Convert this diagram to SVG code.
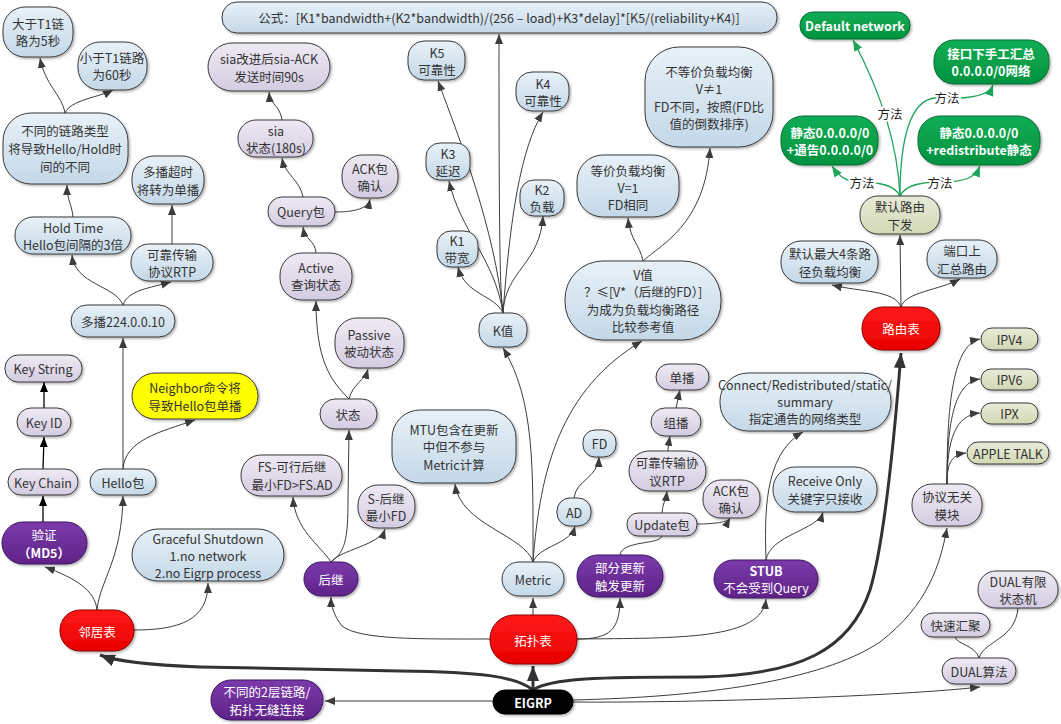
<svg xmlns="http://www.w3.org/2000/svg" width="1061" height="724" viewBox="0 0 1061 724">
<defs>
<linearGradient id="gb" x1="0" y1="0" x2="0" y2="1"><stop offset="0" stop-color="#e8f1f8"/><stop offset="1" stop-color="#c4d8e8"/></linearGradient>
<linearGradient id="gl" x1="0" y1="0" x2="0" y2="1"><stop offset="0" stop-color="#eeeaf3"/><stop offset="1" stop-color="#d4cce2"/></linearGradient>
<linearGradient id="gk" x1="0" y1="0" x2="0" y2="1"><stop offset="0" stop-color="#e8ebd8"/><stop offset="1" stop-color="#d2d8b4"/></linearGradient>
<linearGradient id="gp" x1="0" y1="0" x2="0" y2="1"><stop offset="0" stop-color="#7b3aaa"/><stop offset="1" stop-color="#5f2388"/></linearGradient>
<linearGradient id="gr" x1="0" y1="0" x2="0" y2="1"><stop offset="0" stop-color="#ff1a1a"/><stop offset="1" stop-color="#e80000"/></linearGradient>
<linearGradient id="gg" x1="0" y1="0" x2="0" y2="1"><stop offset="0" stop-color="#12ad55"/><stop offset="1" stop-color="#00923f"/></linearGradient>
<filter id="sh" x="-10%" y="-10%" width="130%" height="140%"><feDropShadow dx="1.5" dy="1.5" stdDeviation="1" flood-color="#000" flood-opacity="0.3"/></filter>
<marker id="a" viewBox="0 0 10 8" refX="10" refY="4" markerWidth="10" markerHeight="8" markerUnits="userSpaceOnUse" orient="auto"><path d="M0,0 L10,4 L0,8 z" fill="#3c3c3c"/></marker>
<marker id="k" viewBox="0 0 10 8" refX="10" refY="4" markerWidth="10" markerHeight="8" markerUnits="userSpaceOnUse" orient="auto"><path d="M0,0 L10,4 L0,8 z" fill="#000"/></marker>
<marker id="g" viewBox="0 0 10 8" refX="10" refY="4" markerWidth="11" markerHeight="9" markerUnits="userSpaceOnUse" orient="auto"><path d="M0,0 L10,4 L0,8 z" fill="#1fa55a"/></marker>
<marker id="t" viewBox="0 0 10 8" refX="10" refY="4" markerWidth="15" markerHeight="12" markerUnits="userSpaceOnUse" orient="auto"><path d="M0,0 L10,4 L0,8 z" fill="#333"/></marker>
</defs>
<style>
text{font-family:"Noto Sans CJK SC","Liberation Sans",sans-serif;font-size:12.5px;fill:#333;text-anchor:middle;dominant-baseline:central}
rect{stroke:#3a3a3a;stroke-width:1;filter:url(#sh)}
.b rect{fill:url(#gb)}
.l rect{fill:url(#gl)}
.k rect{fill:url(#gk)}
.p rect{fill:url(#gp);stroke:#3d1560}
.p text{fill:#fff}
.r rect{fill:url(#gr);stroke:#8a0000}
.r text{fill:#fff}
.g rect{fill:url(#gg);stroke:#0a6a30}
.g text{fill:#fff;font-weight:bold}
.y rect{fill:#ffff00}
.e rect{fill:#000;stroke:#000}
.e text{fill:#fff;font-weight:bold}
.c path{fill:none;stroke:#3c3c3c;stroke-width:1;marker-end:url(#a)}
.c path.kk{stroke:#000;stroke-width:1.3;marker-end:url(#k)}
.c path.th{stroke:#333;stroke-width:3;marker-end:url(#t)}
.c path.gr{stroke:#1fa55a;stroke-width:1.3;marker-end:url(#g)}
.c path.na{marker-end:none}
.lab{fill:#222;stroke:#fff;stroke-width:4px;paint-order:stroke;stroke-linejoin:round}
</style>
<rect x="0" y="0" width="1061" height="724" fill="#fff" style="filter:none;stroke:none"/>
<g id="connectors" class="c">
<path class="th" d="M533,690 L533,666"/>
<path class="th" d="M533,690 C515,676 480,672 400,671 L200,667 C150,665 118,662 100,655"/>
<path class="th" d="M533,690 C550,678 600,677 700,677 C800,675 850,650 870,590 C885,540 895,430 901,353"/>
<path d="M493,701 L325,701"/>
<path d="M573,700 C700,697 820,682 880,642 C928,605 940,565 947,528"/>
<path d="M573,702 C700,703 900,696 980,687"/>
<path d="M533,615 L533,598"/>
<path d="M490,639 C420,639 360,640 342,626 C334,616 331,606 331,597"/>
<path d="M577,639 C610,639 620,630 620,598"/>
<path d="M577,639 C680,638 762,640 766,599"/>
<path d="M97,610 C95,590 75,578 45,567"/>
<path d="M97,610 C100,580 122,560 123,496"/>
<path d="M134,630 C180,630 208,620 208,583"/>
<path class="kk" d="M43,522 L43,496"/>
<path class="kk" d="M43,469 L44,437"/>
<path class="kk" d="M44,408 L44,382"/>
<path d="M123,469 L123,338"/>
<path d="M123,469 C125,440 160,432 195,420"/>
<path d="M123,305 C115,285 75,285 72,255"/>
<path d="M123,305 C128,290 150,288 171,282"/>
<path d="M73,217 C72,205 67,200 67,185"/>
<path d="M172,244 L172,205"/>
<path d="M65,113 C62,95 45,85 40,58"/>
<path d="M65,113 C70,100 100,97 113,90"/>
<path d="M331,562 C320,545 295,530 293,497"/>
<path d="M331,562 C340,550 380,545 385,529"/>
<path d="M331,562 C345,552 348,540 348,500 L349,430"/>
<path d="M349,399 C330,380 316,360 316,301"/>
<path d="M349,399 C352,385 365,380 368,369"/>
<path d="M316,253 C315,240 305,240 303,227"/>
<path d="M303,197 C300,180 285,175 282,158"/>
<path d="M335,212 C350,212 368,210 370,199"/>
<path d="M282,120 C280,105 270,105 269,92"/>
<path d="M533,562 C525,535 460,525 455,484"/>
<path d="M533,562 C533,470 535,400 503,348"/>
<path d="M533,562 C540,470 560,390 642,341"/>
<path d="M533,562 C540,545 570,545 575,526"/>
<path d="M574,498 C576,480 598,478 599,457"/>
<path d="M503,313 C500,290 499,250 499,34"/>
<path d="M503,313 C495,230 460,140 438,81"/>
<path d="M503,313 C495,260 460,230 449,181"/>
<path d="M503,313 C495,295 465,295 458,267"/>
<path d="M503,313 C510,220 520,150 543,112"/>
<path d="M503,313 C505,270 540,265 543,216"/>
<path d="M643,261 C640,245 630,240 628,218"/>
<path d="M643,261 C660,245 705,225 710,148"/>
<path class="na" d="M620,555 C622,540 660,545 662,536"/>
<path d="M662,513 C662,505 666,500 667,491"/>
<path d="M697,524 C715,524 728,522 730,518"/>
<path d="M668,451 C668,445 669,442 670,436"/>
<path d="M676,408 L680,390"/>
<path d="M766,560 C765,520 762,455 803,432"/>
<path d="M766,560 C770,535 818,530 823,512"/>
<path d="M901,307 L900,235"/>
<path d="M901,307 C895,290 860,292 832,285"/>
<path d="M901,307 C905,292 940,290 960,279"/>
<path class="gr" d="M900,196 C898,150 885,100 853,40"/>
<path class="gr" d="M900,196 C900,140 910,100 935,98 L960,98 C980,97 990,93 993,85"/>
<path class="gr" d="M900,196 C895,185 880,182 860,182 C845,182 838,175 832,166"/>
<path class="gr" d="M900,196 C905,185 920,182 940,182 C965,182 975,178 980,166"/>
<path d="M947,484 C947,420 950,345 980,339"/>
<path d="M947,484 C947,420 955,382 980,379"/>
<path d="M947,484 C947,440 955,415 980,413"/>
<path d="M947,484 C947,465 950,455 966,453"/>
<path class="na" d="M979,658 C975,645 958,645 955,637"/>
<path class="na" d="M979,658 C985,640 1015,640 1018,608"/>
<text class="lab" x="890" y="113">方法</text>
<text class="lab" x="947" y="97">方法</text>
<text class="lab" x="862" y="182">方法</text>
<text class="lab" x="940" y="182">方法</text>
</g>
<g id="n-gt-t1" class="b"><rect x="3" y="7" width="70" height="50" rx="22"/><text x="38" y="23.5">大于T1链</text><text x="38" y="40.5">路为5秒</text></g>
<g id="n-lt-t1" class="b"><rect x="78" y="42" width="69" height="48" rx="22"/><text x="112" y="57.5">小于T1链路</text><text x="112" y="74.5">为60秒</text></g>
<g id="n-linktype" class="b"><rect x="3" y="113" width="125" height="71" rx="28"/><text x="65" y="130">不同的链路类型</text><text x="65" y="148">将导致Hello/Hold时</text><text x="65" y="166">间的不同</text></g>
<g id="n-mcast-timeout" class="b"><rect x="132" y="156" width="72" height="48" rx="22"/><text x="168" y="171.5">多播超时</text><text x="168" y="189">将转为单播</text></g>
<g id="n-holdtime" class="b"><rect x="15" y="217" width="116" height="37" rx="18"/><text x="73" y="227">Hold Time</text><text x="73" y="244">Hello包间隔的3倍</text></g>
<g id="n-rtp1" class="b"><rect x="131" y="244" width="82" height="37" rx="18"/><text x="172" y="254">可靠传输</text><text x="172" y="271">协议RTP</text></g>
<g id="n-mcast" class="b"><rect x="71" y="305" width="104" height="32" rx="16"/><text x="123" y="321">多播224.0.0.10</text></g>
<g id="n-keystring" class="l"><rect x="5" y="355" width="77" height="27" rx="13"/><text x="43" y="368.5">Key String</text></g>
<g id="n-keyid" class="l"><rect x="17" y="408" width="54" height="28" rx="14"/><text x="44" y="422">Key ID</text></g>
<g id="n-neighbor" class="y"><rect x="132" y="373" width="126" height="46" rx="23"/><text x="195" y="387">Neighbor命令将</text><text x="195" y="405">导致Hello包单播</text></g>
<g id="n-keychain" class="l"><rect x="8" y="469" width="70" height="26" rx="13"/><text x="43" y="482">Key Chain</text></g>
<g id="n-hello" class="b"><rect x="90" y="469" width="66" height="26" rx="13"/><text x="123" y="482">Hello包</text></g>
<g id="n-auth" class="p"><rect x="2" y="522" width="85" height="42" rx="21"/><text x="44" y="534.5">验证</text><text x="44" y="552" style="font-weight:bold">（MD5）</text></g>
<g id="n-graceful" class="b"><rect x="132" y="529" width="152" height="52" rx="26"/><text x="208" y="538">Graceful Shutdown</text><text x="208" y="555">1.no network</text><text x="208" y="572">2.no Eigrp process</text></g>
<g id="n-neighbor-table" class="r"><rect x="60" y="610" width="74" height="41" rx="20"/><text x="97" y="631">邻居表</text></g>
<g id="n-l2" class="p"><rect x="211" y="680" width="112" height="40" rx="20"/><text x="267" y="691.5">不同的2层链路/</text><text x="267" y="709">拓扑无缝连接</text></g>
<g id="n-eigrp" class="e"><rect x="493" y="690" width="80" height="24" rx="12"/><text x="533" y="702">EIGRP</text></g>
<g id="n-formula" class="b"><rect x="222" y="2" width="555" height="31" rx="15"/><text x="499" y="17.5">公式：[K1*bandwidth+(K2*bandwidth)/(256 – load)+K3*delay]*[K5/(reliability+K4)]</text></g>
<g id="n-sia-ack" class="l"><rect x="208" y="43" width="122" height="48" rx="24"/><text x="269" y="58.5">sia改进后sia-ACK</text><text x="269" y="76">发送时间90s</text></g>
<g id="n-sia" class="l"><rect x="238" y="120" width="75" height="37" rx="18"/><text x="276" y="130">sia</text><text x="276" y="147">状态(180s)</text></g>
<g id="n-ack1" class="l"><rect x="342" y="155" width="56" height="43" rx="20"/><text x="370" y="168">ACK包</text><text x="370" y="185">确认</text></g>
<g id="n-query" class="l"><rect x="268" y="197" width="67" height="29" rx="14"/><text x="301" y="211.5">Query包</text></g>
<g id="n-active" class="l"><rect x="280" y="253" width="72" height="47" rx="22"/><text x="316" y="267">Active</text><text x="316" y="284.5">查询状态</text></g>
<g id="n-passive" class="l"><rect x="335" y="318" width="69" height="50" rx="22"/><text x="369" y="334">Passive</text><text x="369" y="351.5">被动状态</text></g>
<g id="n-state" class="l"><rect x="320" y="399" width="57" height="30" rx="15"/><text x="348" y="414">状态</text></g>
<g id="n-fs" class="l"><rect x="241" y="455" width="101" height="41" rx="20"/><text x="292" y="466.5">FS-可行后继</text><text x="292" y="484">最小FD&gt;FS.AD</text></g>
<g id="n-s" class="l"><rect x="358" y="485" width="57" height="43" rx="20"/><text x="386" y="498">S-后继</text><text x="386" y="515.5">最小FD</text></g>
<g id="n-successor" class="p"><rect x="304" y="562" width="54" height="34" rx="17"/><text x="331" y="579">后继</text></g>
<g id="n-mtu" class="b"><rect x="392" y="410" width="124" height="73" rx="28"/><text x="454" y="429">MTU包含在更新</text><text x="454" y="446.5">中但不参与</text><text x="454" y="464">Metric计算</text></g>
<g id="n-k5" class="b"><rect x="408" y="41" width="57" height="39" rx="16"/><text x="437" y="52">K5</text><text x="437" y="69">可靠性</text></g>
<g id="n-k4" class="b"><rect x="516" y="72" width="53" height="39" rx="16"/><text x="543" y="83">K4</text><text x="543" y="100">可靠性</text></g>
<g id="n-k3" class="b"><rect x="426" y="143" width="44" height="37" rx="14"/><text x="448" y="153">K3</text><text x="448" y="170">延迟</text></g>
<g id="n-k2" class="b"><rect x="520" y="180" width="44" height="36" rx="14"/><text x="542" y="189.5">K2</text><text x="542" y="206.5">负载</text></g>
<g id="n-k1" class="b"><rect x="437" y="231" width="41" height="36" rx="14"/><text x="457" y="240.5">K1</text><text x="457" y="257.5">带宽</text></g>
<g id="n-kval" class="b"><rect x="479" y="313" width="48" height="34" rx="15"/><text x="503" y="330">K值</text></g>
<g id="n-equal" class="b"><rect x="577" y="155" width="102" height="62" rx="26"/><text x="628" y="170">等价负载均衡</text><text x="628" y="187">V=1</text><text x="628" y="204">FD相同</text></g>
<g id="n-unequal" class="b"><rect x="645" y="47" width="128" height="100" rx="34"/><text x="709" y="71">不等价负载均衡</text><text x="709" y="88">V≠1</text><text x="709" y="106">FD不同，按照(FD比</text><text x="709" y="123">值的倒数排序)</text></g>
<g id="n-vval" class="b"><rect x="565" y="261" width="156" height="79" rx="38"/><text x="643" y="274">V值</text><text x="643" y="291.5">？≤[V*（后继的FD）]</text><text x="643" y="309">为成为负载均衡路径</text><text x="643" y="326.5">比较参考值</text></g>
<g id="n-fd" class="b"><rect x="583" y="430" width="33" height="27" rx="12"/><text x="599.5" y="443.5">FD</text></g>
<g id="n-ad" class="b"><rect x="557" y="498" width="34" height="28" rx="13"/><text x="574" y="512">AD</text></g>
<g id="n-metric" class="b"><rect x="502" y="562" width="62" height="34" rx="17"/><text x="533" y="579">Metric</text></g>
<g id="n-unicast" class="l"><rect x="656" y="364" width="53" height="26" rx="13"/><text x="682" y="377">单播</text></g>
<g id="n-multicast" class="l"><rect x="651" y="408" width="50" height="28" rx="14"/><text x="676" y="422">组播</text></g>
<g id="n-rtp2" class="l"><rect x="629" y="451" width="77" height="40" rx="20"/><text x="667" y="462.5">可靠传输协</text><text x="667" y="480">议RTP</text></g>
<g id="n-ack2" class="l"><rect x="703" y="480" width="57" height="38" rx="18"/><text x="731" y="490.5">ACK包</text><text x="731" y="507.5">确认</text></g>
<g id="n-update" class="l"><rect x="627" y="513" width="70" height="23" rx="11"/><text x="662" y="524.5">Update包</text></g>
<g id="n-partial" class="p"><rect x="577" y="555" width="86" height="42" rx="21"/><text x="620" y="567.5">部分更新</text><text x="620" y="585">触发更新</text></g>
<g id="n-topo" class="r"><rect x="490" y="615" width="87" height="49" rx="24"/><text x="533" y="640">拓扑表</text></g>
<g id="n-connect" class="b"><rect x="720" y="373" width="171" height="58" rx="28"/><text x="805" y="384.5">Connect/Redistributed/static/</text><text x="805" y="401.5">summary</text><text x="805" y="418.5">指定通告的网络类型</text></g>
<g id="n-recvonly" class="b"><rect x="773" y="467" width="104" height="45" rx="22"/><text x="825" y="480.5">Receive Only</text><text x="825" y="498">关键字只接收</text></g>
<g id="n-stub" class="p"><rect x="714" y="560" width="104" height="38" rx="19"/><text x="766" y="570.5" style="font-weight:bold">STUB</text><text x="766" y="587.5">不会受到Query</text></g>
<g id="n-default-net" class="g"><rect x="800" y="12" width="110" height="27" rx="13"/><text x="855" y="25.5">Default network</text></g>
<g id="n-iface-sum" class="g"><rect x="934" y="40" width="115" height="44" rx="20"/><text x="991" y="53">接口下手工汇总</text><text x="991" y="70.5">0.0.0.0/0网络</text></g>
<g id="n-static-adv" class="g"><rect x="781" y="116" width="97" height="49" rx="22"/><text x="830" y="132">静态0.0.0.0/0</text><text x="830" y="149.5">+通告0.0.0.0/0</text></g>
<g id="n-static-redis" class="g"><rect x="918" y="116" width="122" height="49" rx="22"/><text x="979" y="132">静态0.0.0.0/0</text><text x="979" y="149.5">+redistribute静态</text></g>
<g id="n-default-route" class="k"><rect x="860" y="196" width="80" height="38" rx="18"/><text x="900" y="206.5">默认路由</text><text x="900" y="224">下发</text></g>
<g id="n-max4" class="b"><rect x="781" y="241" width="97" height="42" rx="20"/><text x="830" y="253.5">默认最大4条路</text><text x="830" y="271">径负载均衡</text></g>
<g id="n-port-sum" class="b"><rect x="927" y="240" width="70" height="38" rx="18"/><text x="962" y="250.5">端口上</text><text x="962" y="268">汇总路由</text></g>
<g id="n-route-table" class="r"><rect x="862" y="307" width="78" height="43" rx="21"/><text x="901" y="328.5">路由表</text></g>
<g id="n-ipv4" class="k"><rect x="981" y="328" width="57" height="22" rx="11"/><text x="1009.5" y="339">IPV4</text></g>
<g id="n-ipv6" class="k"><rect x="981" y="369" width="57" height="21" rx="10"/><text x="1009.5" y="379.5">IPV6</text></g>
<g id="n-ipx" class="k"><rect x="981" y="403" width="57" height="21" rx="10"/><text x="1009.5" y="413.5">IPX</text></g>
<g id="n-appletalk" class="k"><rect x="967" y="442" width="82" height="22" rx="11"/><text x="1008" y="453">APPLE TALK</text></g>
<g id="n-pdm" class="l"><rect x="912" y="484" width="70" height="42" rx="20"/><text x="947" y="496.5">协议无关</text><text x="947" y="514">模块</text></g>
<g id="n-dual-fsm" class="l"><rect x="978" y="571" width="80" height="37" rx="18"/><text x="1018" y="581">DUAL有限</text><text x="1018" y="598">状态机</text></g>
<g id="n-fast" class="l"><rect x="921" y="613" width="69" height="24" rx="12"/><text x="955.5" y="625">快速汇聚</text></g>
<g id="n-dual" class="l"><rect x="942" y="658" width="74" height="26" rx="13"/><text x="979" y="671">DUAL算法</text></g>
</svg>
